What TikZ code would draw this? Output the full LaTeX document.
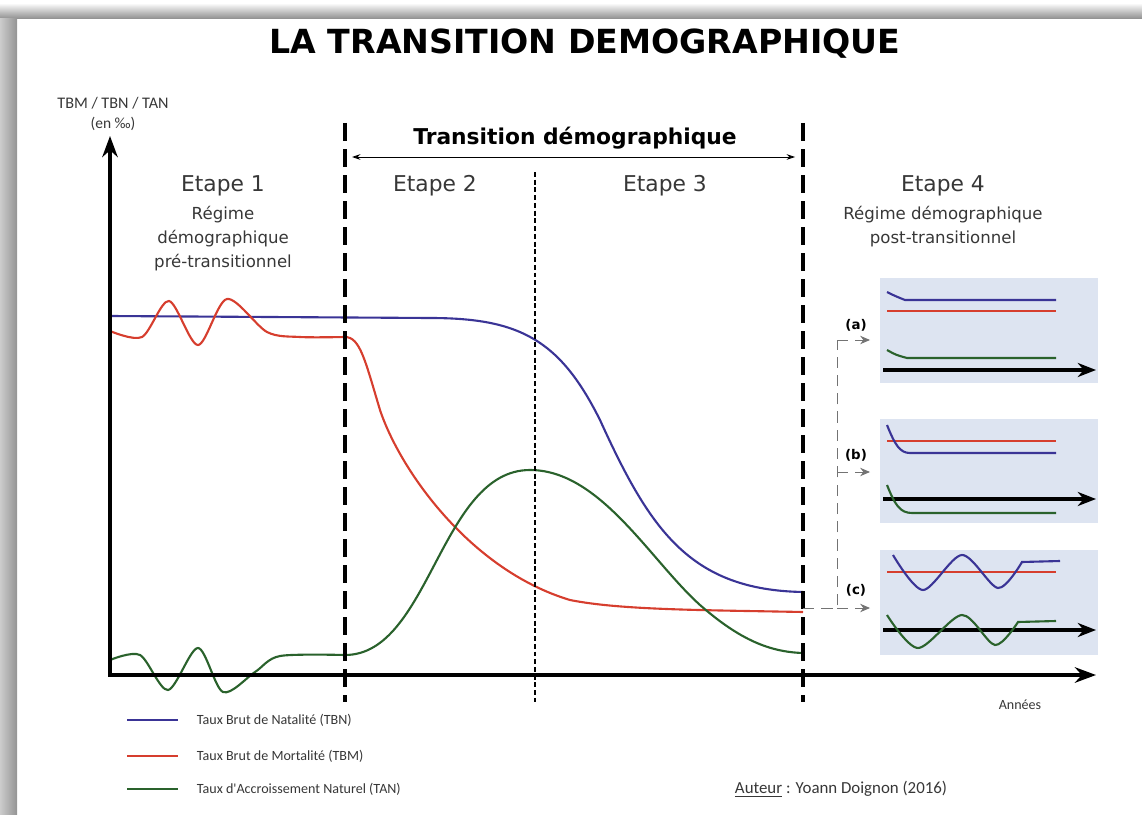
\documentclass[tikz,border=0pt]{standalone}
\usepackage{fontspec}
\setmainfont{DejaVu Sans}
\newfontfamily\narrowfont{Carlito}
\usetikzlibrary{positioning}
\usetikzlibrary{arrows.meta}

\definecolor{tbncol}{RGB}{58,52,150}
\definecolor{tbmcol}{RGB}{214,62,46}
\definecolor{tancol}{RGB}{42,98,44}
\definecolor{panelcol}{RGB}{221,228,241}
\definecolor{txtcol}{RGB}{55,55,55}

\tikzstyle{axis} = [line width=2.8pt, {Stealth[length=15pt,width=11pt]}-{Stealth[length=15pt,width=11pt]}]
\tikzstyle{miniaxis} = [line width=2.6pt, -{Stealth[length=13pt,width=10pt]}]
\tikzstyle{stageline} = [line width=3.4pt, dash pattern=on 12.5pt off 6pt]
\tikzstyle{midline} = [line width=1pt, dash pattern=on 3.5pt off 2pt]
\tikzstyle{tbn} = [tbncol, line width=1.5pt]
\tikzstyle{tbm} = [tbmcol, line width=1.5pt]
\tikzstyle{tan} = [tancol, line width=1.5pt]
\tikzstyle{panel} = [fill=panelcol]
\tikzstyle{bracket} = [black!55, line width=0.7pt, dash pattern=on 8pt off 5pt]
\tikzstyle{stagetitle} = [text=txtcol, font=\fontsize{15.5}{18}\selectfont]
\tikzstyle{stagesub} = [text=txtcol, align=center, font=\fontsize{11.8}{17}\selectfont]
\tikzstyle{smalltext} = [text=txtcol, font=\narrowfont\fontsize{10}{12}\selectfont]
\tikzstyle{caselabel} = [font=\bfseries\fontsize{9.5}{11}\selectfont]

\begin{document}
\begin{tikzpicture}[x=0.025cm, y=-0.025cm]
  \useasboundingbox (0,0) rectangle (1142,814);
  % frame shadow
  \shade[top color=white, bottom color=black!45] (0,3) rectangle (1142,19);
  \shade[left color=black!20, right color=black!42] (0,19) rectangle (17,814);

  \node[font=\bfseries\fontsize{23.6}{26}\selectfont] (title) at (585,44) {LA TRANSITION DEMOGRAPHIQUE};

  % axes
  \coordinate (O) at (110,675);
  \coordinate (ytip) at (110,136);
  \coordinate (xtip) at (1096,675);
  \node[smalltext, font=\narrowfont\fontsize{11.5}{13}\selectfont] (ylabel) at (113,103) {TBM / TBN / TAN};
  \node[smalltext, font=\narrowfont\fontsize{11}{13}\selectfont, below=-1pt of ylabel] (yunit) {(en ‰)};
  \node[smalltext] (annees) at (1020,705) {Années};

  % curves
  \draw[tbn] (110,316) -- (430,318) .. controls (520,318) and (560,340) .. (600,420)
    .. controls (650,530) and (690,590) .. (803,592);
  \draw[tbm] plot[smooth] coordinates {(110,331) (142,337) (169,301) (198,345) (227,299) (267,332) (300,337) (345,337)}
    .. controls (360,337) and (365,360) .. (380,410)
    .. controls (400,470) and (470,570) .. (570,600)
    .. controls (620,610) and (700,610) .. (803,612);
  \draw[tan] plot[smooth] coordinates {(110,660) (140,655) (168,690) (198,648) (223,692) (255,672) (280,656) (345,655)}
    .. controls (430,655) and (440,470) .. (530,470)
    .. controls (600,470) and (650,560) .. (700,605)
    .. controls (740,640) and (770,652) .. (803,653);

  \draw[axis] (ytip) -- (O) -- (xtip);

  % stages
  \draw[stageline] (345,123) -- (345,702);
  \draw[stageline] (803,123) -- (803,702);
  \draw[midline] (535,172) -- (535,702);

  \coordinate (transL) at (352,157);
  \coordinate (transR) at (795,157);
  \draw[{Stealth[length=6pt,width=4pt]}-{Stealth[length=6pt,width=4pt]}, line width=0.6pt] (transL) -- (transR);
  \node[font=\bfseries\fontsize{15.5}{18}\selectfont] (trans) at (575,138) {Transition démographique};

  \node[stagetitle] (etape1) at (223,186) {Etape 1};
  \node[stagesub, below=0pt of etape1] (reg1) {Régime\\démographique\\pré-transitionnel};
  \node[stagetitle] (etape2) at (435,186) {Etape 2};
  \node[stagetitle] (etape3) at (665,186) {Etape 3};
  \node[stagetitle] (etape4) at (943,186) {Etape 4};
  \node[stagesub, below=0pt of etape4] (reg4) {Régime démographique\\post-transitionnel};

  % post-transition panels
  \fill[panel] (880,278) rectangle (1098,383);
  \fill[panel] (880,419) rectangle (1098,523);
  \fill[panel] (880,550) rectangle (1098,655);

  % (a)
  \draw[tbn] (887,292) .. controls (895,296) .. (905,300) -- (1056,300);
  \draw[tbm] (887,311) -- (1056,311);
  \draw[tan] (887,350) .. controls (896,355) .. (907,358) -- (1056,358);
  \draw[miniaxis] (883,370) -- (1096,370);
  % (b)
  \draw[tbm] (887,441) -- (1056,441);
  \draw[tbn] (887,425) .. controls (895,445) and (900,453) .. (910,453) -- (1056,453);
  \draw[miniaxis] (883,499) -- (1096,499);
  \draw[tan] (887,485) .. controls (895,505) and (900,513) .. (912,513) -- (1056,513);
  % (c)
  \draw[tbm] (887,572) -- (1056,572);
  \draw[tbn] plot[smooth] coordinates {(893,555) (923,590) (962,555) (998,588) (1022,562)} -- (1060,561);
  \draw[miniaxis] (883,630) -- (1096,630);
  \draw[tan] plot[smooth] coordinates {(887,615) (918,648) (962,615) (995,645) (1018,622)} -- (1056,621);

  % bracket
  \coordinate (brtop) at (837,340);
  \coordinate (brbot) at (837,608);
  \coordinate (bend) at (803,608);
  \draw[bracket] (bend) -- (brbot) -- (brtop);
  \draw[bracket, -{Stealth[length=7pt,width=6pt]}] (brtop) -- ++(33,0) coordinate (arra);
  \draw[bracket, -{Stealth[length=7pt,width=6pt]}] (837,472) -- ++(33,0) coordinate (arrb);
  \draw[bracket, -{Stealth[length=7pt,width=6pt]}] (brbot) -- ++(33,0) coordinate (arrc);
  \node[caselabel] (labela) at (856,325) {(a)};
  \node[caselabel] (labelb) at (856,455) {(b)};
  \node[caselabel] (labelc) at (856,590) {(c)};

  % legend
  \node[smalltext, anchor=west] (legtbn) at (192,720) {Taux Brut de Natalité (TBN)};
  \node[smalltext, anchor=west] (legtbm) at (192,756) {Taux Brut de Mortalité (TBM)};
  \node[smalltext, anchor=west] (legtan) at (192,789) {Taux d'Accroissement Naturel (TAN)};
  \draw[tbn] (127,720) -- (178,720);
  \draw[tbm] (127,756) -- (178,756);
  \draw[tan] (127,789) -- (178,789);
  \node[smalltext, font=\narrowfont\fontsize{12}{14}\selectfont, anchor=west] (auteur) at (730,789) {\underline{Auteur} : Yoann Doignon (2016)};
\end{tikzpicture}
\end{document}
